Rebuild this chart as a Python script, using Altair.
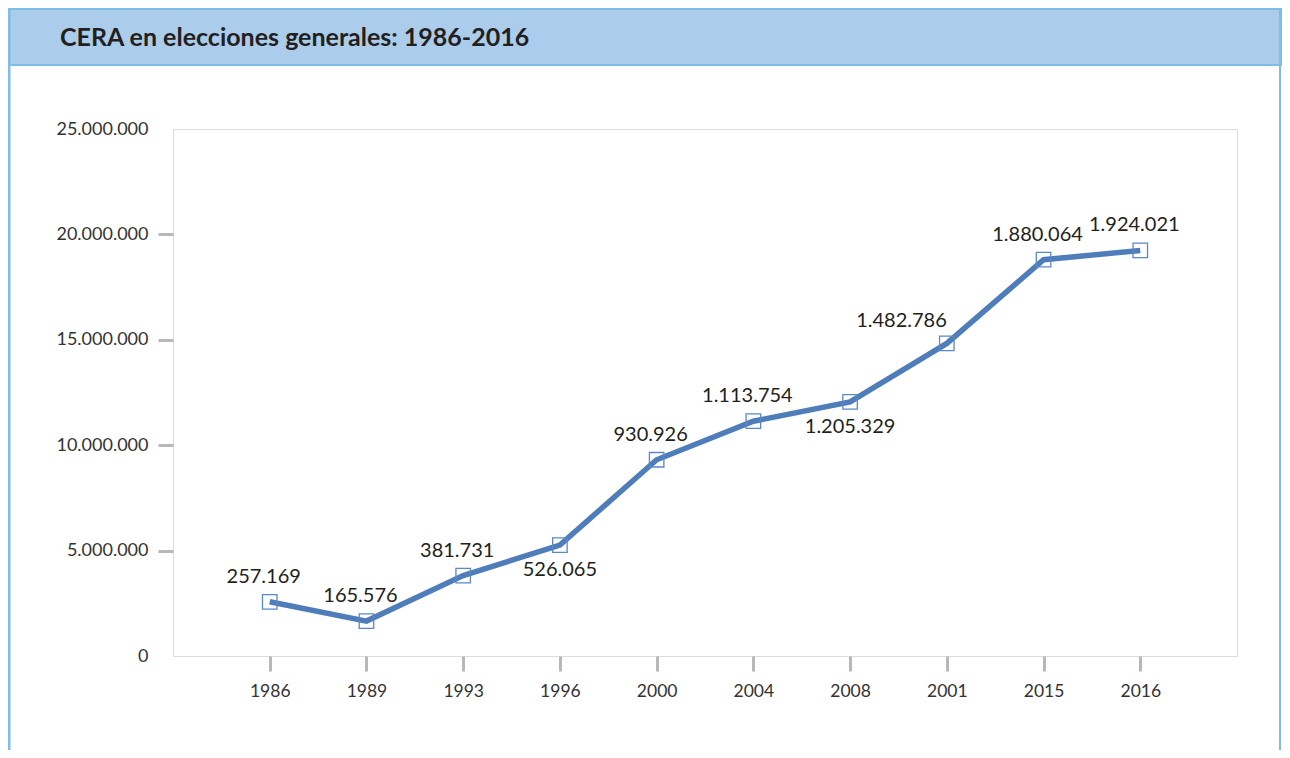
import altair as alt
import pandas as pd

years = ["1986", "1989", "1993", "1996", "2000", "2004", "2008", "2001", "2015", "2016"]
values = [2571690, 1655760, 3817310, 5260650, 9309260, 11137540, 12053290, 14827860, 18800640, 19240210]
labels = ["257.169", "165.576", "381.731", "526.065", "930.926", "1.113.754",
          "1.205.329", "1.482.786", "1.880.064", "1.924.021"]
label_pos = ["above", "above", "above", "below", "above", "above",
             "below", "left", "above", "above"]
y_ticks = [0, 5000000, 10000000, 15000000, 20000000, 25000000]
title_text = "CERA en elecciones generales: 1986-2016"

df = pd.DataFrame({"year": years, "value": values, "label": labels, "pos": label_pos})

LINE = "#4f7dba"
GRAY = "#b8b8bc"
TXT = "#231f20"

W, H = 1064, 527
PL, PT = 165, 121

x = alt.X("year:N", sort=None, title=None,
          scale=alt.Scale(type="point", padding=1),
          axis=alt.Axis(labelAngle=0, domain=False, ticks=True, tickSize=15, tickWidth=3,
                        tickColor=GRAY, labelFontSize=17.5, labelColor="#333333",
                        labelFont="Lato", labelPadding=11, grid=False))
y = alt.Y("value:Q", title=None,
          scale=alt.Scale(domain=[0, 25000000], nice=False),
          axis=alt.Axis(values=y_ticks,
                        labelExpr="replace(format(datum.value, ','), regexp(',', 'g'), '.')",
                        domain=False, tickSize=15, tickWidth=3, tickColor=GRAY,
                        tickOpacity={"condition": {"test": "datum.value == 0 || datum.value == 25000000",
                                                   "value": 0}, "value": 1},
                        labelFontSize=18, labelColor="#333333", labelFont="Lato",
                        labelPadding=10, grid=False))

base = alt.Chart(df)

line = base.mark_line(color=LINE, strokeWidth=5.5).encode(x=x, y=y)
pts = base.mark_point(shape="square", size=210, filled=False, color="#5a88c8",
                      strokeWidth=1.3, opacity=1).encode(x=x, y=y)

txt_style = dict(fontSize=20, font="Lato", color=TXT, baseline="middle")
above = base.transform_filter("datum.pos == 'above'").mark_text(
    dy=-25, dx=-6, **txt_style).encode(x=x, y=y, text="label:N")
below = base.transform_filter("datum.pos == 'below'").mark_text(
    dy=25, **txt_style).encode(x=x, y=y, text="label:N")
left = base.transform_filter("datum.pos == 'left'").mark_text(
    dy=-22, dx=0, align="right", **txt_style).encode(x=x, y=y, text="label:N")

# header band and frame (decoration)
one = alt.Chart(pd.DataFrame({"t": [title_text]}))
band = one.mark_rect(color="#abcdeb", stroke="#7dbde8", strokeWidth=2, clip=False).encode(
    x=alt.value(-164), x2=alt.value(1108), y=alt.value(-120), y2=alt.value(-64))
left_border = one.mark_rule(color="#7dbde8", strokeWidth=3, clip=False).encode(
    x=alt.value(-164), y=alt.value(-120), y2=alt.value(H + 120))
right_border = one.mark_rule(color="#7dbde8", strokeWidth=2, clip=False).encode(
    x=alt.value(1107), y=alt.value(-120), y2=alt.value(H + 120))
title = one.mark_text(fontSize=25, font="Lato", fontWeight="bold", color=TXT,
                      align="left", baseline="middle", clip=False).encode(
    x=alt.value(-113), y=alt.value(-91), text="t:N")

chart = alt.layer(band, left_border, right_border, title, line, pts, above, below, left).properties(
    width=W, height=H,
    autosize=alt.AutoSizeParams(type="none"),
    padding={"left": PL, "top": PT, "right": 45, "bottom": 94},
).configure_view(stroke=GRAY, strokeWidth=2.5).configure(background="white")

chart.save("out.html", embed_options={"renderer": "svg", "actions": False})
